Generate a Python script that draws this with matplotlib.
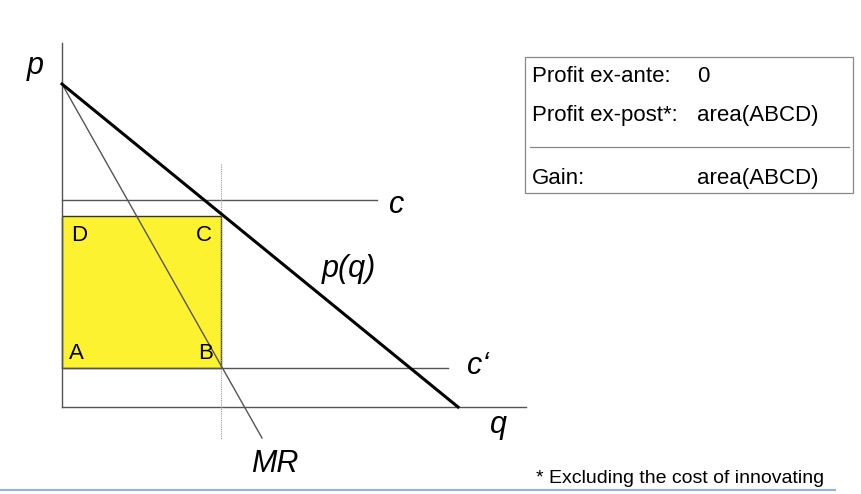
import matplotlib.pyplot as plt
from matplotlib.patches import Rectangle

# model values (1 unit = 40 px on the slide)
demand_q = [0.0, 9.9]
demand_p = [8.075, 0.0]
mr_q = [0.0, 5.0]
mr_p = [8.075, -0.775]
c_high = 5.175
c_low = 0.975
q_star = 3.975
p_star = 4.775

box_rows = [("Profit ex-ante:", "0"), ("Profit ex-post*:", "area(ABCD)")]
gain_row = ("Gain:", "area(ABCD)")
footnote = "* Excluding the cost of innovating"

plt.rcParams['font.family'] = ['Liberation Sans', 'DejaVu Sans']

W, H = 861, 494
fig = plt.figure(figsize=(W / 100, H / 100), dpi=100)
ax = fig.add_axes([0, 0, 1, 1])
X0, Y0, S = 62, 407, 40.0
ax.set_xlim(-X0 / S, (W - X0) / S)
ax.set_ylim(-(H - Y0) / S, Y0 / S)
ax.axis('off')


def px(x, y):
    # slide pixel -> data
    return (x - X0) / S, (Y0 - y) / S


grey = '#555555'

# yellow profit rectangle
ax.add_patch(Rectangle((0, c_low), q_star, p_star - c_low, facecolor='#fdf22f',
                       edgecolor='#333333', lw=1.0, zorder=1))

# axes
ax.plot([0, 11.6], [0, 0], color=grey, lw=1.0, zorder=2)
ax.plot([0, 0], [0, 9.1], color=grey, lw=1.0, zorder=2)

# cost lines
ax.plot([0, 7.875], [c_high, c_high], color=grey, lw=1.0, zorder=2)
ax.plot([0, 9.65], [c_low, c_low], color=grey, lw=1.0, zorder=2)

# dotted vertical at q*
ax.plot([q_star, q_star], [6.075, -0.8], color='#999999', lw=0.8,
        ls=(0, (1, 1)), zorder=2)

# MR and demand
ax.plot(mr_q, mr_p, color='#555555', lw=1.0, zorder=3)
ax.plot(demand_q, demand_p, color='black', lw=2.2, zorder=4)

# labels
lab = dict(fontsize=22, style='italic', va='baseline')
ax.text(*px(27, 74), 'p', **lab)
ax.text(*px(389, 213), 'c', **lab)
ax.text(*px(322, 277), 'p(q)', **lab)
ax.text(*px(467, 374), 'c\u2018', **lab)
ax.text(*px(490, 433), 'q', **lab)
ax.text(*px(251, 472), 'MR', **lab)

pts = dict(fontsize=16, va='baseline')
ax.text(*px(71, 241), 'D', **pts)
ax.text(*px(196, 241), 'C', **pts)
ax.text(*px(69, 359), 'A', **pts)
ax.text(*px(198, 359), 'B', **pts)

# info box
bx0, by0 = px(525, 193)
bx1, by1 = px(853, 57)
ax.add_patch(Rectangle((bx0, by0), bx1 - bx0, by1 - by0, facecolor='white',
                       edgecolor='#888888', lw=0.9, zorder=5))
sx0, sy = px(530, 147)
sx1, _ = px(849, 147)
ax.plot([sx0, sx1], [sy, sy], color='#888888', lw=0.9, zorder=6)
for (k, v), y in zip(box_rows + [gain_row], [76, 115, 178]):
    ax.text(*px(532, y), k, fontsize=16, va='center', zorder=7)
    ax.text(*px(697, y), v, fontsize=16, va='center', zorder=7)

ax.text(*px(536, 483), footnote, fontsize=14, va='baseline')

# blue rule at bottom
lx0, ly = px(0, 490)
lx1, _ = px(835, 490)
ax.plot([lx0, lx1], [ly, ly], color='#8fb4e3', lw=1.5)

fig.savefig('out.png', dpi=100)
